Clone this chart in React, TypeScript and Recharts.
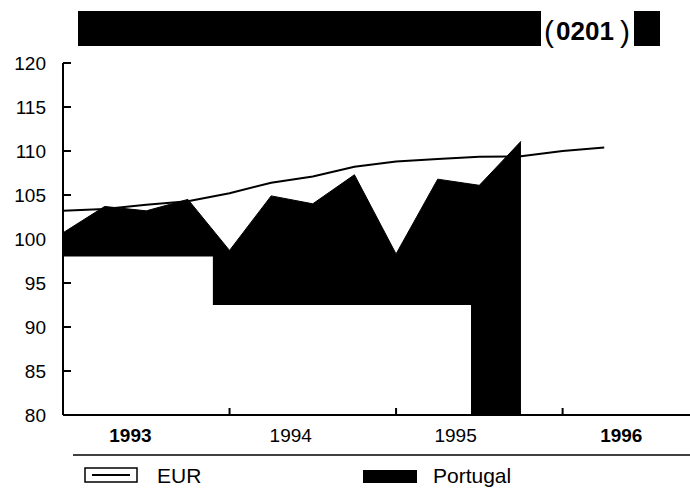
import { ComposedChart, Area, Line, XAxis, YAxis } from 'recharts';

// quarter index, 0 = 1993 Q1
const QUARTERS = [0, 1, 2, 3, 4, 5, 6, 7, 8, 9, 10, 11, 12, 13];
const EUR = [103.2, 103.4, 103.9, 104.3, 105.2, 106.4, 107.1, 108.2, 108.8, 109.1, 109.35, 109.4, 110.0, 110.4];
const PORTUGAL = [100.7, 103.7, 103.2, 104.5, 98.7, 104.9, 104.0, 107.3, 98.3, 106.8, 106.1, 111.1];

// lower (light) band of the Portugal fill, stepped
const PORTUGAL_BASE_Q = [0, 3.6, 9.8];
const PORTUGAL_BASE = [98, 92.5, 80];

const YEARS = ['1993', '1994', '1995', '1996'];
const YEAR_BOLD = [true, false, false, true];
const YEAR_LABEL_POS = [1.62, 5.47, 9.43, 13.41];
const YEAR_TICKS = [4, 8, 12];
const Y_TICKS = [80, 85, 90, 95, 100, 105, 110, 115, 120];
const Y_MIN = 80;
const Y_MAX = 120;
const X_MAX = 15.06;

const rows = QUARTERS.map((q, i) => ({
  q,
  eur: EUR[i],
  portugal: i < PORTUGAL.length ? PORTUGAL[i] : null,
}));
const baseRows = PORTUGAL_BASE_Q.map((q, i) => ({ q, base: PORTUGAL_BASE[i] }));

const XTick = (props: any) => {
  const { x, y, payload } = props;
  const v = payload.value;
  if (YEAR_TICKS.includes(v)) {
    return <line x1={x} x2={x} y1={y} y2={y - 7} stroke="#000" strokeWidth={2} />;
  }
  const i = YEAR_LABEL_POS.indexOf(v);
  return (
    <text x={x} y={y + 27} textAnchor="middle" fontSize={19} fontWeight={YEAR_BOLD[i] ? 700 : 400} fill="#000">
      {YEARS[i]}
    </text>
  );
};

const YTick = (props: any) => {
  const { x, y, payload } = props;
  return (
    <g>
      <line x1={x} x2={x + 8} y1={y} y2={y} stroke="#000" strokeWidth={2} />
      <text x={x - 17} y={y + 7} textAnchor="end" fontSize={19} fill="#000">
        {payload.value}
      </text>
    </g>
  );
};

export default function App() {
  return (
    <div
      style={{
        position: 'absolute',
        left: 0,
        top: 0,
        width: 690,
        height: 492,
        background: '#fff',
        fontFamily: '"Liberation Sans", Arial, sans-serif',
        overflow: 'hidden',
      }}
    >
      <ComposedChart width={690} height={492} data={rows} margin={{ top: 63, right: 0, bottom: 37, left: 0 }}>
        <XAxis
          type="number"
          dataKey="q"
          domain={[0, X_MAX]}
          allowDataOverflow
          ticks={[...YEAR_LABEL_POS, ...YEAR_TICKS].sort((a, b) => a - b)}
          interval={0}
          tick={XTick}
          tickLine={false}
          tickSize={0}
          tickMargin={0}
          height={40}
          axisLine={{ stroke: '#000', strokeWidth: 2 }}
        />
        <YAxis
          type="number"
          domain={[Y_MIN, Y_MAX]}
          ticks={Y_TICKS}
          interval={0}
          tick={YTick}
          tickLine={false}
          tickSize={0}
          tickMargin={0}
          width={63}
          axisLine={{ stroke: '#000', strokeWidth: 2 }}
        />
        <Area
          type="linear"
          dataKey="portugal"
          baseValue={Y_MIN}
          stroke="#000"
          strokeWidth={1}
          fill="#000"
          fillOpacity={1}
          isAnimationActive={false}
        />
        <Area
          data={baseRows}
          type="stepAfter"
          dataKey="base"
          baseValue={Y_MIN}
          stroke="none"
          fill="#fff"
          fillOpacity={1}
          isAnimationActive={false}
        />
        <Line type="linear" dataKey="eur" stroke="#000" strokeWidth={2} dot={false} isAnimationActive={false} />
      </ComposedChart>

      <svg width={690} height={492} style={{ position: 'absolute', left: 0, top: 0, pointerEvents: 'none' }}>
        {/* title bar */}
        <rect x={78} y={11} width={463} height={35} fill="#000" />
        <text x={544} y={42} fontSize={30} fill="#000">(</text>
        <text x={556} y={40} fontSize={26} fontWeight={700} fill="#000">0201</text>
        <text x={620} y={42} fontSize={30} fill="#000">)</text>
        <rect x={634} y={11} width={26} height={35} fill="#000" />

        {/* legend */}
        <line x1={73} x2={690} y1={455} y2={455} stroke="#000" strokeWidth={1.5} />
        <rect x={85} y={468} width={52} height={14} fill="#fff" stroke="#000" strokeWidth={1.5} />
        <line x1={92} x2={130} y1={475} y2={475} stroke="#000" strokeWidth={2} />
        <text x={157} y={483} fontSize={21} fill="#000">EUR</text>
        <rect x={363} y={470} width={54} height={13} fill="#000" />
        <text x={433} y={483} fontSize={21} fill="#000">Portugal</text>
      </svg>
    </div>
  );
}
